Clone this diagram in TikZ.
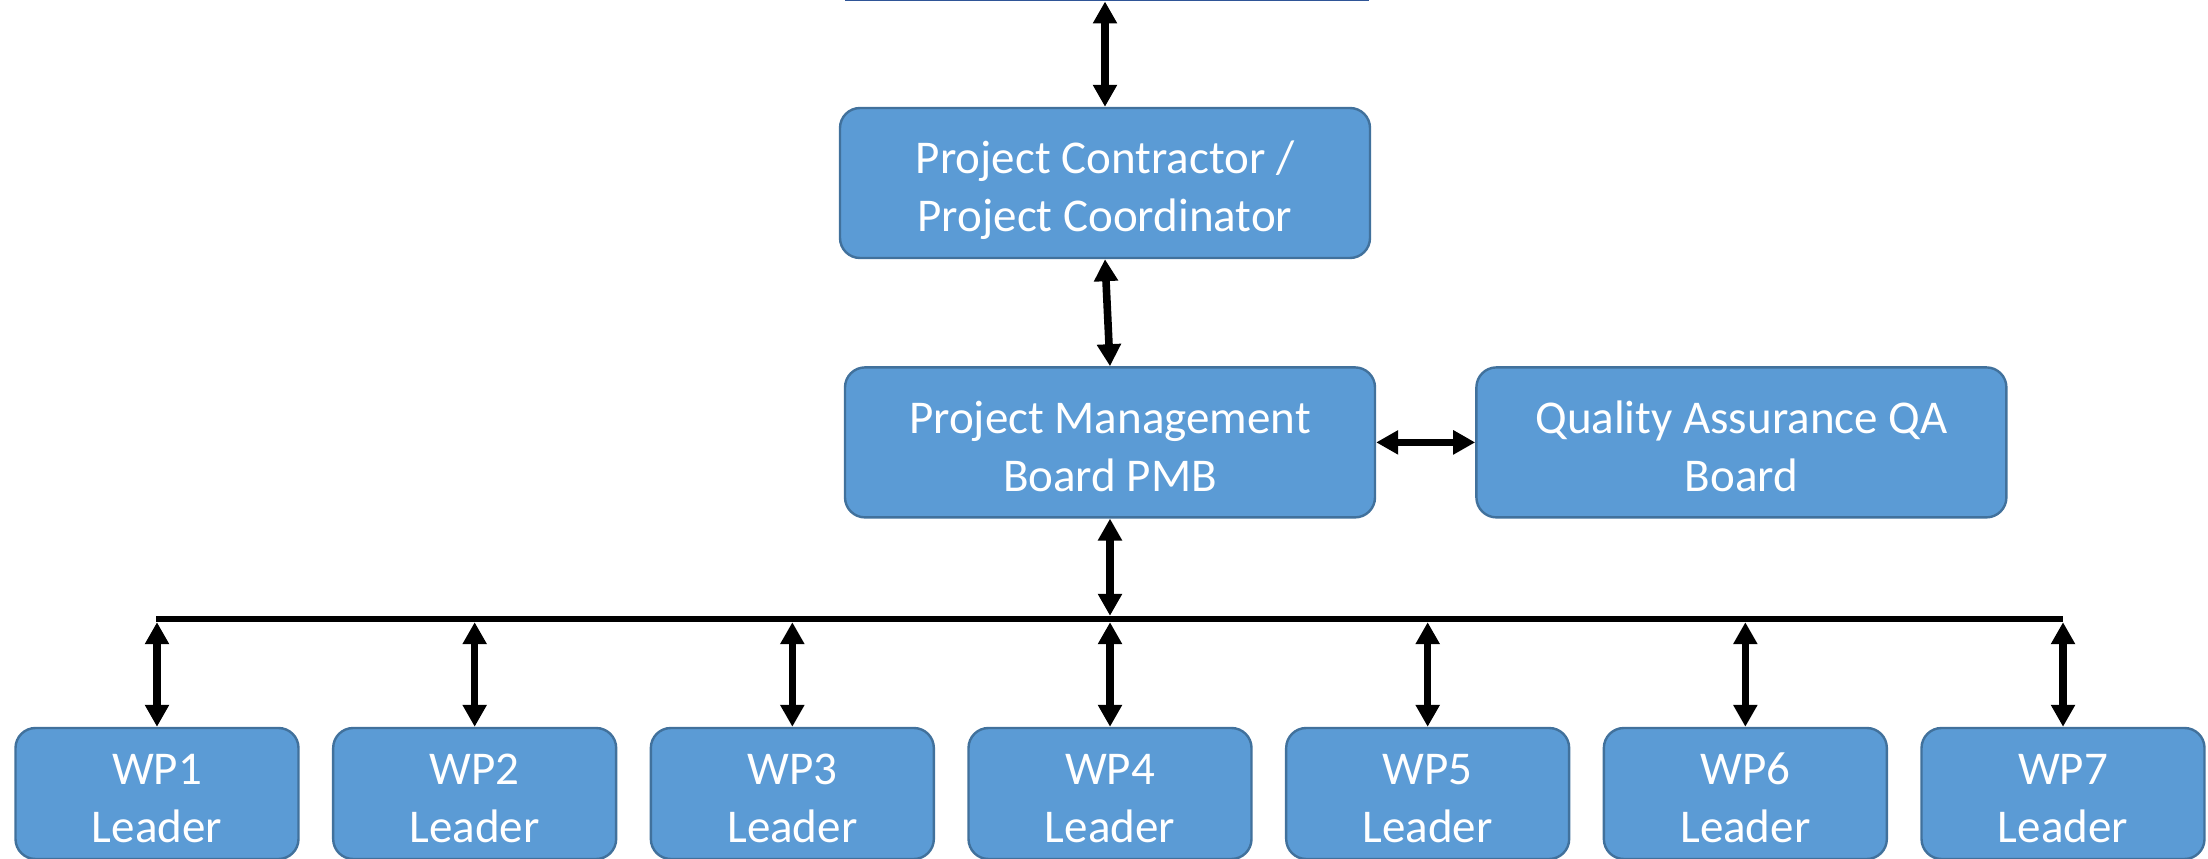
\documentclass[tikz,border=0pt]{standalone}
\usepackage{fontspec}
\setmainfont{Carlito}
\usetikzlibrary{positioning,arrows.meta}
\definecolor{boxfill}{HTML}{5B9BD5}
\definecolor{boxline}{HTML}{41719C}
\definecolor{edge}{HTML}{2F5597}

\begin{document}
\begin{tikzpicture}[x=0.5pt, y=0.5pt,
  box/.style={draw=boxline, fill=boxfill, line width=1.2pt, rounded corners=10pt, align=center, text=white, font=\fontsize{23.5}{29}\selectfont, text height=49pt, text depth=0pt, minimum width=265pt, minimum height=75pt, inner sep=0pt},
  wpbox/.style={box, minimum width=141.5pt, minimum height=65.5pt},
  arr/.style={{Triangle[length=11pt,width=11.5pt]}-{Triangle[length=11pt,width=11.5pt]}, line width=3.8pt},
  bus/.style={line width=3.2pt},
  node distance=53.5pt]
\useasboundingbox (0,0) rectangle (2208,858);
\clip (0,0) rectangle (2208,858);
% ---------------- upper level, only its lower edge is in view
\draw[draw=edge, line width=1pt] (845,857.5) -- (1369,857.5);
\coordinate (upper) at (1105,856.5);
% ---------------- coordination and management
\node[box] (contr) at (1105,675) {Project Contractor /\\Project Coordinator};
\node[box, below=of contr, xshift=2.5pt] (pmb) {Project Management\\Board PMB};
\node[box, right=49.5pt of pmb] (qa) {Quality Assurance QA\\Board};
\draw[arr] (upper) -- (contr.north);
\draw[arr] (contr.south) -- (pmb.north);
\draw[arr] (pmb.east) -- (qa.west);
% ---------------- work package leaders on a common bus
\coordinate (busl) at (156,239);
\coordinate (busr) at (2063,239);
\draw[bus] (busl) -- (busr);
\draw[arr, shorten >=1.6pt] (pmb.south) -- (pmb.south |- busl);
\foreach \i in {1,...,7} {
  \node[wpbox] (wp\i) at ({157+317.67*(\i-1)},64.5) {WP\i\\Leader};
  \draw[arr, shorten <=1.6pt] (wp\i.north |- busl) -- (wp\i.north);
}
\end{tikzpicture}
\end{document}
